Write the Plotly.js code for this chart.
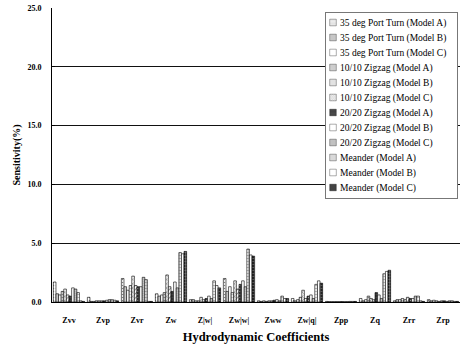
<!DOCTYPE html>
<html>
<head>
<meta charset="utf-8">
<script src="https://cdn.plot.ly/plotly-3.0.1.min.js"></script>
<style>
  html, body { margin: 0; padding: 0; background: #fff; }
  #chart { width: 476px; height: 344px; }
</style>
</head>
<body>
<div id="chart"></div>
<script>
const categories = ['Zvv','Zvp','Zvr','Zw','Z|w|','Zw|w|','Zww','Zw|q|','Zpp','Zq','Zrr','Zrp'];
const seriesNames = [
  '35 deg Port Turn (Model A)', '35 deg Port Turn (Model B)', '35 deg Port Turn (Model C)',
  '10/10 Zigzag (Model A)', '10/10 Zigzag (Model B)', '10/10 Zigzag (Model C)',
  '20/20 Zigzag (Model A)', '20/20 Zigzag (Model B)', '20/20 Zigzag (Model C)',
  'Meander (Model A)', 'Meander (Model B)', 'Meander (Model C)'
];
const turn35A = [1.7, 0.4, 2.0, 0.7, 0.2, 2.0, 0.1, 0.3, 0.05, 0.3, 0.1, 0.2];
const turn35B = [0.7, 0.05, 1.3, 0.5, 0.2, 0.9, 0.05, 0.1, 0.03, 0.1, 0.2, 0.1];
const turn35C = [0.6, 0.05, 1.0, 0.6, 0.1, 1.3, 0.1, 0.2, 0.03, 0.2, 0.2, 0.15];
const zig10A = [0.9, 0.1, 1.4, 0.8, 0.1, 0.8, 0.05, 0.4, 0.03, 0.5, 0.3, 0.1];
const zig10B = [1.1, 0.1, 2.2, 2.3, 0.4, 1.8, 0.1, 1.0, 0.03, 0.3, 0.2, 0.05];
const zig10C = [0.6, 0.1, 1.4, 1.3, 0.2, 1.1, 0.1, 0.3, 0.03, 0.2, 0.4, 0.1];
const zig20A = [0.5, 0.1, 1.3, 0.9, 0.3, 1.5, 0.15, 0.5, 0.03, 0.8, 0.3, 0.1];
const zig20B = [1.2, 0.15, 1.3, 1.7, 0.5, 1.8, 0.2, 0.6, 0.03, 0.6, 0.3, 0.05];
const zig20C = [1.1, 0.2, 2.1, 1.2, 0.3, 1.3, 0.1, 0.3, 0.03, 0.3, 0.5, 0.1];
const meanderA = [0.8, 0.2, 1.9, 4.2, 1.8, 4.5, 0.5, 1.5, 0.05, 2.4, 0.5, 0.1];
const meanderB = [0.1, 0.15, 0.05, 4.1, 1.4, 4.0, 0.3, 1.8, 0.05, 2.6, 0.1, 0.05];
const meanderC = [0.05, 0.1, 0.05, 4.3, 1.2, 3.9, 0.3, 1.6, 0.05, 2.7, 0.05, 0.05];
const yTickVals = [0, 5, 10, 15, 20, 25];
const yTickText = ['0.0', '5.0', '10.0', '15.0', '20.0', '25.0'];

const seriesValues = [turn35A, turn35B, turn35C, zig10A, zig10B, zig10C,
                      zig20A, zig20B, zig20C, meanderA, meanderB, meanderC];

const styles = [
  {bg: '#fff', pat: {shape: '.', size: 3, solidity: 0.2, fgcolor: '#000'}},
  {bg: '#fff', pat: {shape: '.', size: 2, solidity: 0.5, fgcolor: '#000'}},
  {bg: '#fff', pat: null},
  {bg: '#fff', pat: {shape: '.', size: 3, solidity: 0.4, fgcolor: '#000'}},
  {bg: '#fff', pat: {shape: 'x', size: 3, solidity: 0.3, fgcolor: '#000'}},
  {bg: '#fff', pat: {shape: '/', size: 3, solidity: 0.3, fgcolor: '#000'}},
  {bg: '#333', pat: {shape: '.', size: 3, solidity: 0.2, fgcolor: '#fff'}},
  {bg: '#fff', pat: null},
  {bg: '#fff', pat: {shape: '.', size: 2, solidity: 0.6, fgcolor: '#000'}},
  {bg: '#fff', pat: {shape: '+', size: 3, solidity: 0.3, fgcolor: '#000'}},
  {bg: '#fff', pat: null},
  {bg: '#222', pat: {shape: '+', size: 3, solidity: 0.3, fgcolor: '#fff'}}
];

const serif = 'Liberation Serif, Times New Roman, serif';

const traces = seriesNames.map((name, i) => {
  const marker = {color: styles[i].bg, line: {color: '#000', width: 0.6}};
  if (styles[i].pat) marker.pattern = Object.assign({fillmode: 'overlay'}, styles[i].pat);
  return {type: 'bar', name: name, x: categories, y: seriesValues[i], marker: marker};
});

const layout = {
  width: 476, height: 344,
  margin: {l: 52, r: 5, t: 8, b: 42},
  paper_bgcolor: '#fff', plot_bgcolor: '#fff',
  barmode: 'group', bargap: 0.08, bargroupgap: 0,
  font: {family: serif, color: '#000'},
  showlegend: true,
  legend: {
    x: 0.65, y: 0.986, xanchor: 'left', yanchor: 'top',
    bgcolor: '#fff', bordercolor: '#777', borderwidth: 1,
    font: {family: serif, size: 9.5, color: '#000'},
    traceorder: 'normal'
  },
  xaxis: {
    type: 'category',
    showline: true, linecolor: '#000', linewidth: 1,
    ticks: '', showgrid: false, ticklabelstandoff: 10,
    tickfont: {family: serif, size: 8, color: '#000', weight: 'bold'},
    title: {text: 'Hydrodynamic Coefficients', font: {family: serif, size: 12.5, color: '#000', weight: 'bold'}, standoff: 9}
  },
  yaxis: {
    range: [0, 25], tickvals: yTickVals, ticktext: yTickText,
    showline: true, linecolor: '#000', linewidth: 1,
    ticks: 'inside', ticklen: 3, tickcolor: '#000', ticklabelstandoff: 8,
    showgrid: true, gridcolor: '#111', gridwidth: 1, zeroline: false,
    tickfont: {family: serif, size: 8, color: '#000', weight: 'bold'},
    title: {text: 'Sensitivity(%)', font: {family: serif, size: 10, color: '#000', weight: 'bold'}, standoff: 4}
  }
};

Plotly.newPlot('chart', traces, layout, {staticPlot: true, displayModeBar: false}).then(function (gd) {
  const leg = gd.querySelector('.legend');
  if (!leg) return;
  const step = 15;
  const items = leg.querySelectorAll('.traces');
  items.forEach(function (t, i) {
    t.setAttribute('transform', 'translate(2,' + (3 + step / 2 + i * step) + ')');
    const txt = t.querySelector('.legendtext');
    if (txt) txt.setAttribute('x', 13);
    const pts = t.querySelector('.legendpoints');
    if (pts) pts.setAttribute('transform', 'translate(6,0) scale(0.55) translate(-20,0)');
  });
  const bg = leg.querySelector('.bg');
  if (bg) { bg.setAttribute('width', 132); bg.setAttribute('height', 12 * step + 6); }
  leg.setAttribute('transform', 'translate(325,12)');
});
</script>
</body>
</html>
